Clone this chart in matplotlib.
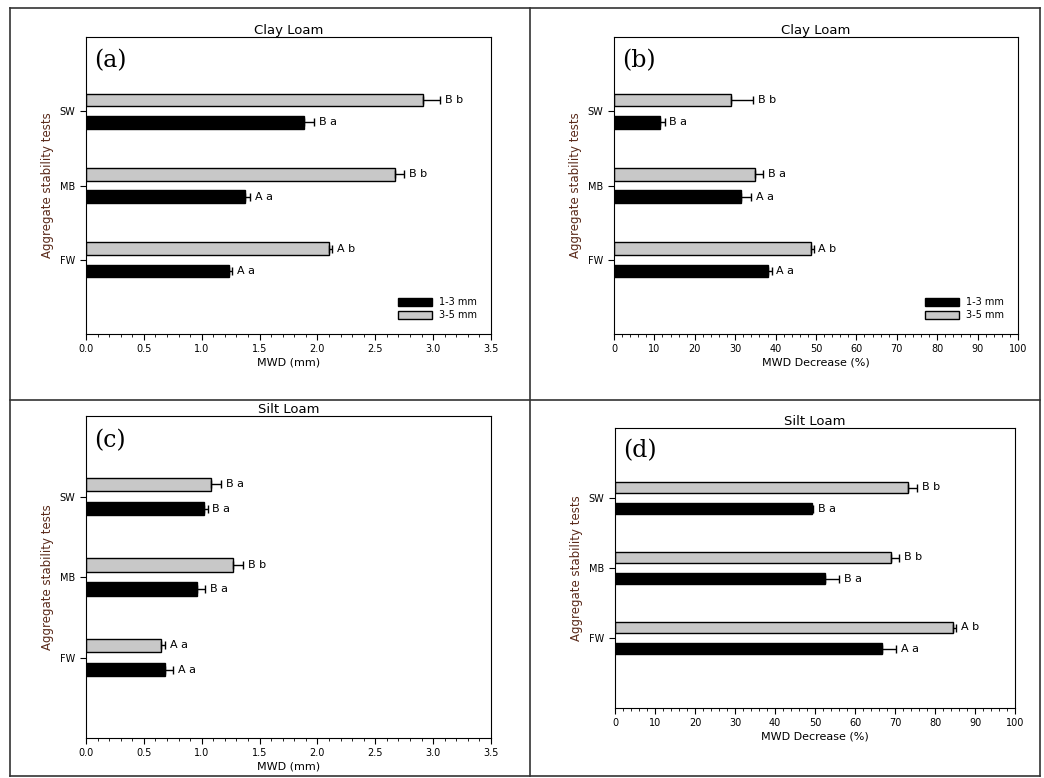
import matplotlib
matplotlib.use("Agg")
import matplotlib.pyplot as plt
from matplotlib.lines import Line2D
from matplotlib.ticker import MultipleLocator
import numpy as np

tests = ["FW", "MB", "SW"]
# order FW, MB, SW
a_small = [1.24, 1.37, 1.88]; a_small_err = [0.02, 0.05, 0.09]
a_large = [2.10, 2.67, 2.91]; a_large_err = [0.03, 0.08, 0.15]
a_lab_small = ["A a", "A a", "B a"]; a_lab_large = ["A b", "B b", "B b"]

b_small = [38.0, 31.5, 11.5]; b_small_err = [1.0, 2.5, 1.0]
b_large = [48.8, 34.8, 29.0]; b_large_err = [0.6, 2.0, 5.5]
b_lab_small = ["A a", "A a", "B a"]; b_lab_large = ["A b", "B a", "B b"]

c_small = [0.68, 0.96, 1.02]; c_small_err = [0.07, 0.07, 0.03]
c_large = [0.65, 1.27, 1.08]; c_large_err = [0.03, 0.09, 0.09]
c_lab_small = ["A a", "B a", "B a"]; c_lab_large = ["A a", "B b", "B a"]

d_small = [66.8, 52.5, 49.3]; d_small_err = [3.5, 3.5, 0.3]
d_large = [84.5, 68.9, 73.3]; d_large_err = [0.7, 2.2, 2.3]
d_lab_small = ["A a", "B a", "B a"]; d_lab_large = ["A b", "B b", "B b"]

W, H = 1044, 778
fig = plt.figure(figsize=(W/100, H/100), dpi=100)

def px(l, t, r, b):
    return [l/W, 1-b/H, (r-l)/W, (b-t)/H]

for (x0, y0, x1, y1) in [(10, 8, 1040, 8), (10, 8, 10, 776), (1040, 8, 1040, 776),
                         (530, 8, 530, 776), (10, 400, 1040, 400), (10, 776, 1040, 776)]:
    fig.add_artist(Line2D([x0/W, x1/W], [1-y0/H, 1-y1/H], color="#333333", lw=1.2))

panels = [
    ("(a)", "Clay Loam", px(86, 37, 491, 334), a_small, a_small_err, a_large, a_large_err,
     a_lab_small, a_lab_large, 3.5, 0.5, 0.1, "MWD (mm)", True),
    ("(b)", "Clay Loam", px(614, 37, 1018, 334), b_small, b_small_err, b_large, b_large_err,
     b_lab_small, b_lab_large, 100, 10, 2, "MWD Decrease (%)", True),
    ("(c)", "Silt Loam", px(86, 416, 491, 738), c_small, c_small_err, c_large, c_large_err,
     c_lab_small, c_lab_large, 3.5, 0.5, 0.1, "MWD (mm)", False),
    ("(d)", "Silt Loam", px(615, 428, 1015, 708), d_small, d_small_err, d_large, d_large_err,
     d_lab_small, d_lab_large, 100, 10, 2, "MWD Decrease (%)", False),
]

y = np.arange(1, 4)
zeros = np.zeros(3)
for tag, title, pos, sm, sme, lg, lge, lsm, llg, xmax, maj, mnr, xlabel, leg in panels:
    ax = fig.add_axes(pos)
    bh = 0.17
    ekw = dict(ecolor="black", elinewidth=1, capsize=3, capthick=1)
    ax.barh(y + 0.15, lg, height=bh, color="#c8c8c8", edgecolor="black", lw=1.0,
            xerr=[zeros, lge], error_kw=ekw, label="3-5 mm")
    ax.barh(y - 0.15, sm, height=bh, color="black", edgecolor="black", lw=1.0,
            xerr=[zeros, sme], error_kw=ekw, label="1-3 mm")
    off = xmax * 0.012
    for i in range(3):
        ax.text(lg[i] + lge[i] + off, y[i] + 0.15, llg[i], va="center", ha="left", fontsize=8)
        ax.text(sm[i] + sme[i] + off, y[i] - 0.15, lsm[i], va="center", ha="left", fontsize=8)
    ax.set_xlim(0, xmax)
    ax.set_ylim(0, 4)
    ax.set_yticks(y)
    ax.set_yticklabels(tests, fontsize=7)
    ax.xaxis.set_major_locator(MultipleLocator(maj))
    ax.xaxis.set_minor_locator(MultipleLocator(mnr))
    ax.tick_params(axis="x", labelsize=7, direction="out", length=4)
    ax.tick_params(axis="x", which="minor", direction="out", length=2)
    ax.tick_params(axis="y", direction="out", length=4)
    ax.set_xlabel(xlabel, fontsize=8, labelpad=2)
    ax.set_ylabel("Aggregate stability tests", fontsize=8.5, color="#5a2a1a")
    ax.set_title(title, fontsize=9.5, pad=2)
    ax.text(0.02, 0.96, tag, transform=ax.transAxes, fontsize=17, family="DejaVu Serif",
            va="top", ha="left")
    if leg:
        h, l = ax.get_legend_handles_labels()
        ax.legend(h[::-1], l[::-1], loc="lower right", fontsize=7, frameon=False,
                  handlelength=3.5, handleheight=1.0, borderaxespad=1.0, labelspacing=0.3)

fig.savefig("out.png", dpi=100)
